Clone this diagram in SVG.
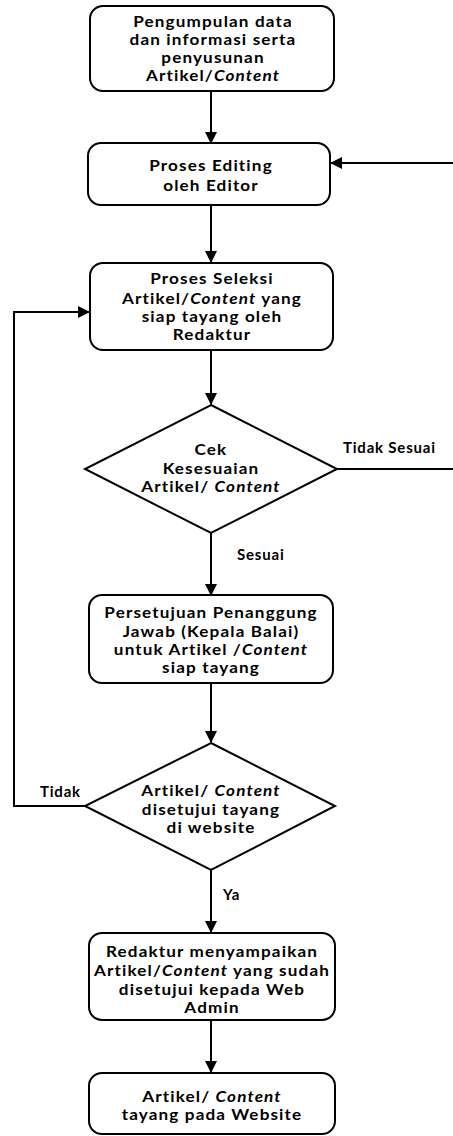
<svg xmlns="http://www.w3.org/2000/svg" width="453" height="1136" viewBox="0 0 453 1136">
<defs>
<marker id="ah" markerWidth="12" markerHeight="12" refX="11" refY="6" orient="auto" markerUnits="userSpaceOnUse">
<path d="M0,0 L12,6 L0,12 Z" fill="#000"/>
</marker>
<style>
.box{fill:#fff;stroke:#000;stroke-width:2}
.t{font-family:Lato,"Open Sans",sans-serif;font-weight:bold;font-size:15px;letter-spacing:1px;fill:#000;text-anchor:middle}
.l{font-family:Lato,"Open Sans",sans-serif;font-weight:bold;font-size:15px;letter-spacing:0.8px;fill:#000}
.i{font-style:italic}
.c{fill:none;stroke:#000;stroke-width:2}
</style>
</defs>
<rect width="453" height="1136" fill="#fff"/>
<g id="connectors">
<path class="c" d="M211,91 V143" marker-end="url(#ah)"/>
<path class="c" d="M453,163 H331" marker-end="url(#ah)"/>
<path class="c" d="M211,205 V262" marker-end="url(#ah)"/>
<path class="c" d="M211,350 V404" marker-end="url(#ah)"/>
<path class="c" d="M337,469 H453"/>
<path class="c" d="M211,533 V595" marker-end="url(#ah)"/>
<path class="c" d="M211,683 V742" marker-end="url(#ah)"/>
<path class="c" d="M85,806 H14 V312 H89" marker-end="url(#ah)"/>
<path class="c" d="M211,870 V932" marker-end="url(#ah)"/>
<path class="c" d="M211,1020 V1072" marker-end="url(#ah)"/>
<text class="l" x="343" y="453">Tidak Sesuai</text>
<text class="l" x="237" y="560">Sesuai</text>
<text class="l" x="40" y="797">Tidak</text>
<text class="l" x="223" y="900">Ya</text>
</g>
<g id="n1">
<rect class="box" x="90" y="6" width="244" height="85" rx="13"/>
<g transform="translate(213,0) scale(1.14,1)">
<text class="t" x="0" y="27">Pengumpulan data</text>
<text class="t" x="0" y="45">dan informasi serta</text>
<text class="t" x="0" y="63">penyusunan</text>
<text class="t" x="0" y="81">Artikel/<tspan class="i">Content</tspan></text>
</g>
</g>
<g id="n2">
<rect class="box" x="88" y="143" width="242" height="62" rx="13"/>
<g transform="translate(211,0) scale(1.14,1)">
<text class="t" x="0" y="171">Proses Editing</text>
<text class="t" x="0" y="191">oleh Editor</text>
</g>
</g>
<g id="n3">
<rect class="box" x="90" y="263" width="243" height="87" rx="13"/>
<g transform="translate(212,0) scale(1.14,1)">
<text class="t" x="0" y="284">Proses Seleksi</text>
<text class="t" x="0" y="304">Artikel/<tspan class="i">Content</tspan> yang</text>
<text class="t" x="0" y="322">siap tayang oleh</text>
<text class="t" x="0" y="340">Redaktur</text>
</g>
</g>
<g id="n4">
<polygon class="box" points="211,405 337,469 211,533 85,469"/>
<g transform="translate(211,0) scale(1.14,1)">
<text class="t" x="0" y="455">Cek</text>
<text class="t" x="0" y="474">Kesesuaian</text>
<text class="t" x="0" y="492">Artikel/ <tspan class="i">Content</tspan></text>
</g>
</g>
<g id="n5">
<rect class="box" x="89" y="595" width="244" height="88" rx="13"/>
<g transform="translate(211,0) scale(1.14,1)">
<text class="t" x="0" y="618">Persetujuan  Penanggung</text>
<text class="t" x="0" y="637">Jawab (Kepala Balai)</text>
<text class="t" x="0" y="655">untuk Artikel /<tspan class="i">Content</tspan></text>
<text class="t" x="0" y="673">siap tayang</text>
</g>
</g>
<g id="n6">
<polygon class="box" points="211,743 335,806 211,870 85,806"/>
<g transform="translate(211,0) scale(1.14,1)">
<text class="t" x="0" y="796">Artikel/ <tspan class="i">Content</tspan></text>
<text class="t" x="0" y="815">disetujui tayang</text>
<text class="t" x="0" y="833">di website</text>
</g>
</g>
<g id="n7">
<rect class="box" x="89" y="933" width="246" height="87" rx="13"/>
<g transform="translate(212,0) scale(1.14,1)">
<text class="t" x="0" y="957">Redaktur menyampaikan</text>
<text class="t" x="0" y="976">Artikel/<tspan class="i">Content</tspan> yang sudah</text>
<text class="t" x="0" y="995">disetujui kepada Web</text>
<text class="t" x="0" y="1013">Admin</text>
</g>
</g>
<g id="n8">
<rect class="box" x="89" y="1073" width="246" height="61" rx="13"/>
<g transform="translate(212,0) scale(1.14,1)">
<text class="t" x="0" y="1102">Artikel/ <tspan class="i">Content</tspan></text>
<text class="t" x="0" y="1120">tayang pada Website</text>
</g>
</g>
</svg>
